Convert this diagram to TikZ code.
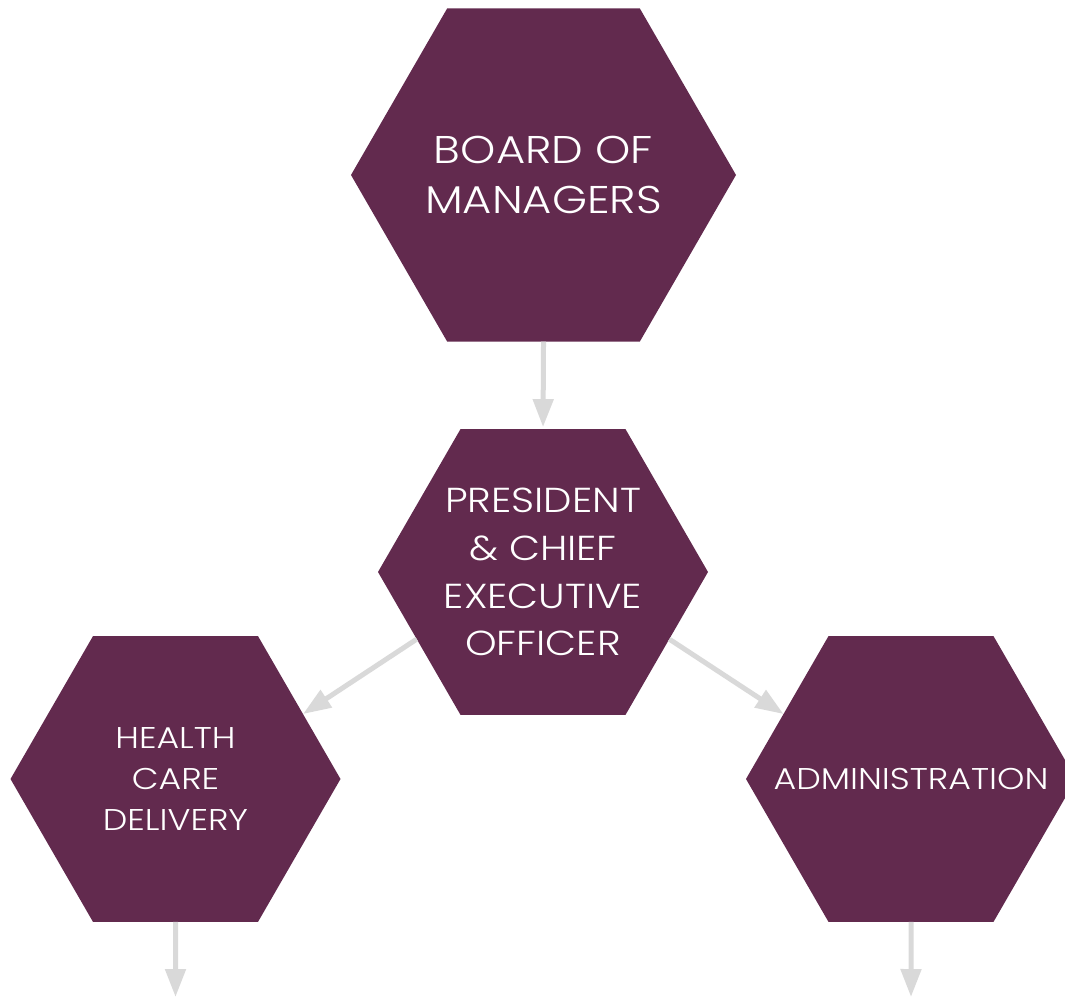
\documentclass[tikz,border=0pt]{standalone}
\usepackage{fontspec}
\setmainfont{Poppins}[UprightFont=* Light, FakeStretch=1.16]
\usetikzlibrary{shapes.geometric, arrows.meta}
\definecolor{plum}{HTML}{622A4E}
\definecolor{lightgrey}{HTML}{D9D9D9}

\begin{document}
\begin{tikzpicture}[x=0.75pt, y=-0.75pt,
	hexa/.style={regular polygon, regular polygon sides=6, fill=plum, text=white, align=center,
		inner sep=-30pt, outer sep=0pt, minimum size=247.5pt},
	link/.style={draw=lightgrey, line width=3.75pt, -{Triangle[width=15pt, length=21pt]}}]
	\useasboundingbox (0,0) rectangle (1065,998);
	\clip (0,0) rectangle (1065,998);
	% the four units
	\node [hexa, minimum size=288.75pt, font=\fontsize{29}{38}\selectfont] (board) at (543.5,175) {BOARD OF\\MANAGERS};
	\node [hexa, font=\fontsize{26}{35.8}\selectfont] (ceo) at (543,572) {PRESIDENT\\\& CHIEF\\EXECUTIVE\\OFFICER};
	\node [hexa, font=\fontsize{22.5}{31}\selectfont] (health) at (175.5,779) {HEALTH\\CARE\\DELIVERY};
	\node [hexa, font=\fontsize{22.5}{31}\selectfont] (admin) at (911,779) {ADMINISTRATION};
	% reporting lines
	\draw [link, shorten >=1.5pt] (board.south) -- (ceo.north);
	\draw [link] (ceo.208) -- (health.27);
	\draw [link] (ceo.332) -- (admin.153);
	\coordinate (healthend) at (175.5,997);
	\coordinate (adminend) at (911,997);
	\draw [link] (health.south) -- (healthend);
	\draw [link] (admin.south) -- (adminend);
\end{tikzpicture}
\end{document}
